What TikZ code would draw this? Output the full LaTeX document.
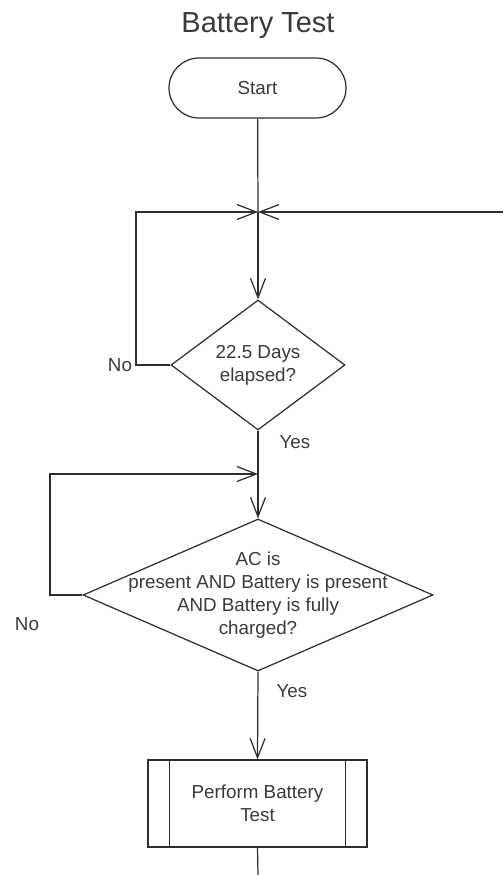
\documentclass[tikz,border=0pt]{standalone}
\usepackage{fontspec}
\setmainfont{Liberation Sans}
\usepackage{xcolor}
\usepackage{tikz}
\usetikzlibrary{
    calc,
    arrows.meta,
    shapes.geometric
}
\definecolor{inkline}{HTML}{2E2E2E}
\definecolor{inktext}{HTML}{3A3A3A}
\tikzset{every picture/.style={line width=0.7pt, draw=inkline}}

\begin{document}
\begin{tikzpicture}[
        flow/.style={draw=inkline, -{Straight Barb[length=11pt,width=8.5pt]}},
        wire/.style={draw=inkline},
        chart text/.style={text=inktext, font=\fontsize{10.7}{13}\selectfont, align=center},
        terminal/.style={draw=inkline, rounded corners=0.6cm, minimum width=3.54cm, minimum height=1.2cm, chart text},
        decision/.style={draw=inkline, diamond, inner sep=0pt},
        subroutine/.style={draw=inkline, rectangle, minimum width=4.38cm, minimum height=1.74cm, chart text},
        branch label/.style={chart text, inner sep=1pt}
    ]
    \useasboundingbox (0,0) rectangle (10.06,-17.5);

    % title and start
    \node[text=inktext, font=\fontsize{16.5}{19}\selectfont, anchor=base] (title) at (5.16,-0.66) {Battery Test};
    \node[terminal] (start) at (5.15,-1.76) {Start};

    % first loop: wait for the interval
    \coordinate (join1) at (5.16,-4.24);
    \coordinate (loopin) at (10.06,-4.24);
    \node[decision, minimum width=3.48cm, minimum height=2.6cm,
          label={[chart text]center:22.5 Days\\elapsed?}] (dayschk) at (5.16,-7.3) {};
    \coordinate (back1) at (2.72,-7.3);

    \draw[wire] (start) -- (join1);
    \draw[flow] (loopin) -- (join1);
    \draw[flow] (dayschk.west) -- (back1) |- (join1);
    \draw[flow] (join1) -- (dayschk.north);

    % second loop: check power conditions
    \coordinate (join2) at (5.16,-9.48);
    \node[decision, minimum width=7.0cm, minimum height=3.04cm,
          label={[chart text]center:AC is\\present AND Battery is present\\AND Battery is fully\\charged?}] (acchk) at (5.16,-11.9) {};
    \coordinate (back2) at (1.0,-11.9);

    \draw[wire] (dayschk.south) -- (join2);
    \draw[flow] (acchk.west) -- (back2) |- (join2);
    \draw[flow] (join2) -- (acchk.north);

    % test step
    \node[subroutine] (battest) at (5.15,-16.07) {Perform Battery\\Test};
    \foreach \s/\a in {0.44cm/west,-0.44cm/east} {
        \draw[wire] ([xshift=\s]battest.north \a) -- ([xshift=\s]battest.south \a);
    }
    \coordinate (exitbot) at (5.16,-17.5);
    \draw[flow] (acchk.south) -- (battest.north);
    \draw[wire] (battest.south) -- (exitbot);

    % branch labels
    \foreach \n/\p/\t in {no1/{2.4,-7.3}/No, yes1/{5.9,-8.84}/Yes,
                          no2/{0.54,-12.48}/No, yes2/{5.84,-13.82}/Yes} {
        \node[branch label] (\n) at (\p) {\t};
    }
\end{tikzpicture}
\end{document}
